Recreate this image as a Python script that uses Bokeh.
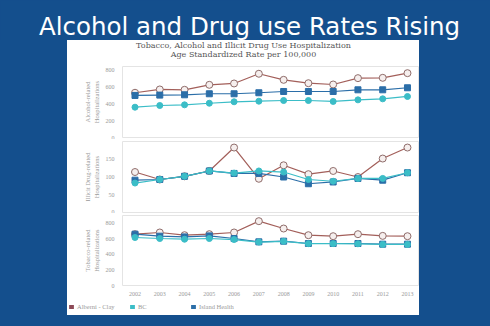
from bokeh.plotting import figure
from bokeh.layouts import column
from bokeh.models import Label, Range1d, Legend, LegendItem, FixedTicker
from bokeh.embed import file_html
from bokeh.resources import INLINE

# ---------------- data ----------------
years = [2002, 2003, 2004, 2005, 2006, 2007, 2008, 2009, 2010, 2011, 2012, 2013]
series_names = ["Alberni - Clay", "BC", "Island Health"]

alcohol_alberni = [530, 569, 565, 624, 640, 755, 683, 643, 628, 703, 707, 762]
alcohol_island = [498, 502, 506, 518, 518, 530, 545, 545, 545, 565, 565, 589]
alcohol_bc = [359, 379, 387, 406, 423, 430, 438, 438, 427, 446, 458, 486]

drug_alberni = [114, 93, 102, 117, 183, 95, 133, 108, 117, 100, 152, 183]
drug_island = [91, 93, 102, 117, 110, 110, 100, 81, 86, 96, 91, 112]
drug_bc = [83, 93, 102, 117, 111, 117, 114, 93, 88, 96, 96, 112]

tobacco_alberni = [662, 684, 649, 662, 684, 830, 735, 649, 636, 662, 640, 636]
tobacco_island = [662, 636, 627, 640, 606, 563, 572, 542, 542, 542, 533, 533]
tobacco_bc = [619, 606, 597, 606, 593, 560, 570, 540, 540, 538, 530, 530]

alcohol_ticks = [0, 200, 400, 600, 800]
drug_ticks = [0, 50, 100, 150]
tobacco_ticks = [0, 200, 400, 600, 800]

title_text = "Alcohol and Drug use Rates Rising"
subtitle_1 = "Tobacco, Alcohol and Illicit Drug Use Hospitalization"
subtitle_2 = "Age Standardized Rate per 100,000"
ylabels = ["Alcohol-related\nHospitalizations",
           "Illicit Drug-related\nHospitalizations",
           "Tobacco-related\nHospitalizations"]

# ---------------- style ----------------
BLUE = "#144f8d"
ALB_LINE = "#a35f5a"
ALB_MARK = "#8f6c6a"
ALB_FILL = "#f6efee"
ALB_SWATCH = "#8d4a57"
BC_COL = "#3bbdc7"
ISL_COL = "#2b6ea8"
SERIF = "Liberation Serif"
GRAY = "#9a9a9a"

W = 352
LEFT = 55   # left border of every white-box figure (frames are aligned in the column)


def blank(width, height, fill, left=0):
    p = figure(width=width, height=height, x_range=Range1d(0, 1), y_range=Range1d(0, 1),
               x_axis_type=None, y_axis_type=None, output_backend="svg",
               toolbar_location=None, min_border=0, min_border_left=left,
               border_fill_color=fill, background_fill_color=fill, outline_line_color=None)
    p.xgrid.visible = False
    p.ygrid.visible = False
    return p


# title
tfig = blank(490, 40, BLUE)
tfig.add_layout(Label(x=249, y=14, x_units="screen", y_units="screen", text=title_text,
                      text_align="center", text_baseline="middle", text_color="white",
                      text_font="DejaVu Sans", text_font_size="24.5px"))

# subtitle
sfig = blank(W, 22, "white", LEFT)
sfig.add_layout(Label(x=176 - LEFT, y=17, x_units="screen", y_units="screen", text=subtitle_1,
                      text_align="center", text_baseline="middle", text_color="#555555",
                      text_font="DejaVu Serif", text_font_size="8px"))
sfig.add_layout(Label(x=176 - LEFT, y=8, x_units="screen", y_units="screen", text=subtitle_2,
                      text_align="center", text_baseline="middle", text_color="#555555",
                      text_font="DejaVu Serif", text_font_size="8px"))


def panel(height, y_end, ticks, ylabel, bt, bb, show_x, alb, bc, isl):
    p = figure(width=W, height=height, x_range=Range1d(2001.495, 2013.445),
               y_range=Range1d(0, y_end), output_backend="svg", toolbar_location=None,
               min_border_left=LEFT, min_border_right=1, min_border_top=bt, min_border_bottom=bb,
               background_fill_color="white", border_fill_color="white",
               outline_line_color="#e4e4e4")
    p.xgrid.visible = False
    p.ygrid.visible = False
    p.yaxis.ticker = FixedTicker(ticks=ticks)
    p.xaxis.ticker = FixedTicker(ticks=years)
    for ax in [p.xaxis[0], p.yaxis[0]]:
        ax.axis_line_color = None
        ax.major_tick_line_color = None
        ax.minor_tick_line_color = None
        ax.major_label_text_font = SERIF
        ax.major_label_text_font_size = "6px"
        ax.major_label_text_color = GRAY
    p.yaxis.major_label_standoff = 2
    p.xaxis.major_label_standoff = 0
    p.yaxis.axis_label = ylabel
    p.yaxis.axis_label_text_font = SERIF
    p.yaxis.axis_label_text_font_size = "6.5px"
    p.yaxis.axis_label_text_font_style = "normal"
    p.yaxis.axis_label_text_color = GRAY
    p.yaxis.axis_label_standoff = 3
    if not show_x:
        p.xaxis.visible = False

    p.line(years, alb, line_color=ALB_LINE, line_width=1.2)
    p.scatter(years, alb, marker="circle", size=7, fill_color=ALB_FILL,
              line_color=ALB_MARK, line_width=1)
    p.line(years, isl, line_color=ISL_COL, line_width=1.2)
    p.scatter(years, isl, marker="square", size=6, fill_color=ISL_COL, line_color=ISL_COL)
    p.line(years, bc, line_color=BC_COL, line_width=1.2)
    p.scatter(years, bc, marker="circle", size=6, fill_color=BC_COL, line_color=BC_COL)
    return p


p1 = panel(77, 841, alcohol_ticks, ylabels[0], 4, 2, False,
           alcohol_alberni, alcohol_bc, alcohol_island)
p2 = panel(74, 200, drug_ticks, ylabels[1], 2, 1, False,
           drug_alberni, drug_bc, drug_island)
p3 = panel(89, 903, tobacco_ticks, ylabels[2], 2, 17, True,
           tobacco_alberni, tobacco_bc, tobacco_island)

# legend (own column so its frame is not aligned with the panels);
# zero-size proxy quads give the legend its colour swatches
lfig = blank(W, 13, "white")
items = []
for name, col in zip(series_names, [ALB_SWATCH, BC_COL, ISL_COL]):
    r = lfig.quad(left=[0], right=[0], top=[0], bottom=[0], fill_color=col, line_color=None)
    items.append(LegendItem(label=name, renderers=[r]))
leg = Legend(items=items, orientation="horizontal", location=(1, 5), margin=0, padding=0,
             spacing=1, glyph_width=6, glyph_height=5, label_standoff=3, label_width=51,
             label_text_font=SERIF, label_text_font_size="6.5px", label_text_color=GRAY,
             label_height=5, border_line_color=None, background_fill_alpha=0)
lfig.add_layout(leg, "center")

inner = column(sfig, p1, p2, p3, column(lfig), margin=(0, 0, 0, 67), spacing=0,
               styles={"background-color": "white"})
layout = column(tfig, inner, width=490, height=326, spacing=0,
                styles={"background-color": BLUE})

open("out.html", "w").write(file_html(layout, INLINE))
